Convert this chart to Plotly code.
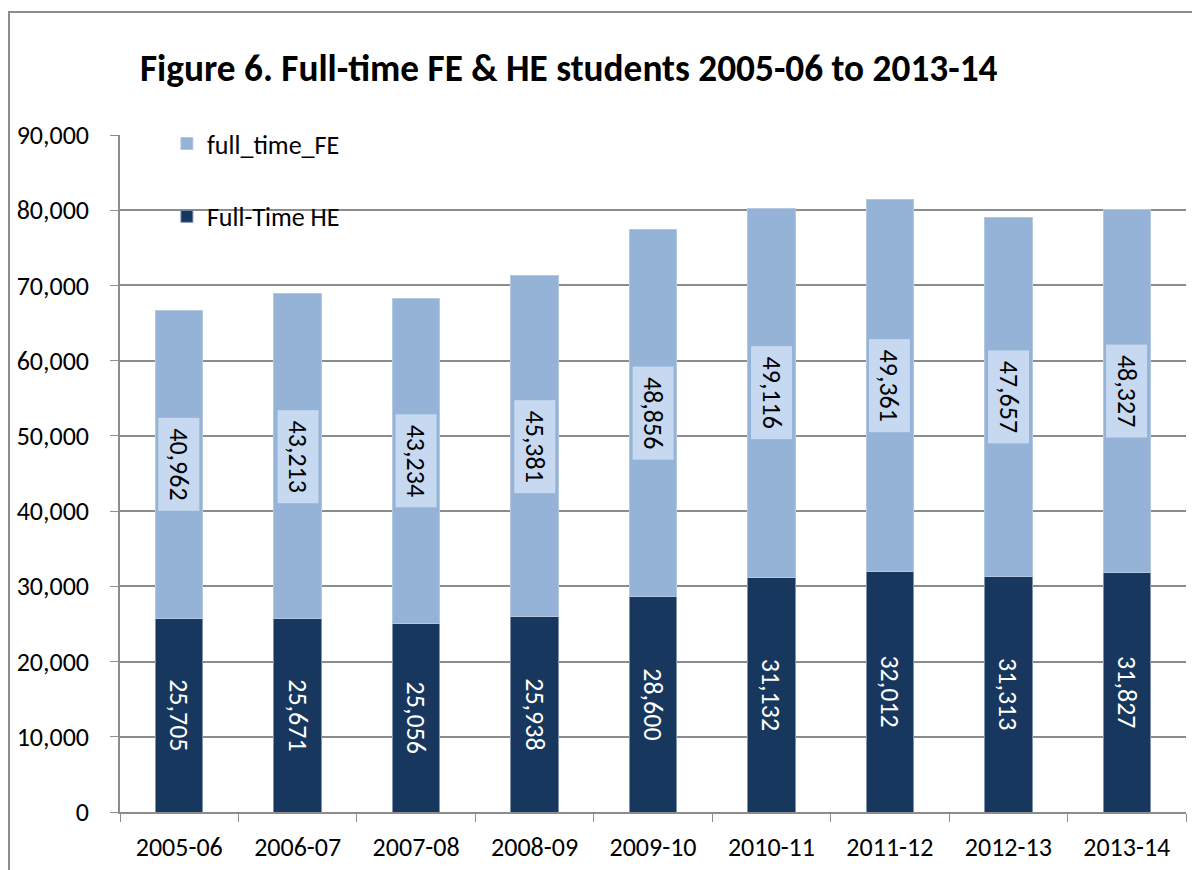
import plotly.graph_objects as go

years = ["2005-06", "2006-07", "2007-08", "2008-09", "2009-10",
         "2010-11", "2011-12", "2012-13", "2013-14"]
full_time_he = [25705, 25671, 25056, 25938, 28600, 31132, 32012, 31313, 31827]
full_time_fe = [40962, 43213, 43234, 45381, 48856, 49116, 49361, 47657, 48327]

FONT = "Calibri, Carlito, Lato, sans-serif"
HE_COLOR = "#17375E"
FE_COLOR = "#95B3D7"
BOX_COLOR = "#C6D9F1"
FS = 26

W, H = 1192, 862
L, R, T, B = 112, 14, 127, 58
PW, PH = W - L - R, H - T - B

fig = go.Figure()
fig.add_trace(go.Bar(
    x=years, y=full_time_he, name="Full-Time HE", legendgroup="he", legendrank=2,
    marker=dict(color=HE_COLOR, line=dict(color="#7F93AD", width=1)),
    text=[f"{v:,}" for v in full_time_he], textposition="inside",
    insidetextanchor="middle", textangle=90,
    textfont=dict(color="white", size=FS, family=FONT),
    constraintext="none", hoverinfo="skip",
))
fig.add_trace(go.Bar(
    x=years, y=full_time_fe, name="full_time_FE", legendgroup="fe", legendrank=1,
    marker=dict(color=FE_COLOR, line=dict(color="#B4C8E2", width=1)),
    hoverinfo="skip",
))

for yr, he, fe in zip(years, full_time_he, full_time_fe):
    fig.add_annotation(
        x=yr, y=he + fe / 2, xref="x", yref="y", text=f"\u00a0{fe:,}\u00a0",
        showarrow=False, textangle=90, bgcolor=BOX_COLOR, borderpad=4,
        font=dict(color="black", size=FS, family=FONT),
    )

# outer chart border (left and top visible)
fig.add_shape(type="rect", xref="paper", yref="paper",
              x0=(1 - L) / PW, x1=(W + 20 - L) / PW,
              y0=-(B + 20) / PH, y1=(H - B - 4) / PH,
              line=dict(color="#8C8C8C", width=2), layer="below")

fig.update_layout(
    width=W, height=H,
    margin=dict(l=L, r=R, t=T, b=B, autoexpand=False),
    barmode="stack", bargap=0.6,
    paper_bgcolor="white", plot_bgcolor="white",
    font=dict(family=FONT, size=FS, color="black"),
    title=dict(text="<b>Figure 6. Full-time FE & HE students 2005-06 to 2013-14</b>",
               x=132 / W, xanchor="left", y=1 - 60 / H, yanchor="middle",
               font=dict(size=37.3, family=FONT, color="black")),
    legend=dict(x=0.044, y=1.022, xanchor="left", yanchor="top",
                traceorder="grouped", tracegroupgap=36,
                bgcolor="rgba(0,0,0,0)", font=dict(size=FS, family=FONT),
                itemwidth=30),
    showlegend=True,
)
fig.update_yaxes(range=[0, 90000], dtick=10000, tickformat=",",
                 showgrid=True, gridcolor="#8C8C8C", gridwidth=1.5,
                 showline=True, linecolor="#8C8C8C", linewidth=1.5,
                 ticks="outside", ticklen=8, tickcolor="#8C8C8C",
                 ticklabelstandoff=16, zeroline=False,
                 tickfont=dict(size=FS, family=FONT))
fig.update_xaxes(type="category", showline=True, linecolor="#8C8C8C", linewidth=1.5,
                 ticks="outside", ticklen=8, tickcolor="#8C8C8C",
                 tickson="boundaries", ticklabelstandoff=11,
                 tickfont=dict(size=FS, family=FONT), showgrid=False)

fig.write_html("out.html")
